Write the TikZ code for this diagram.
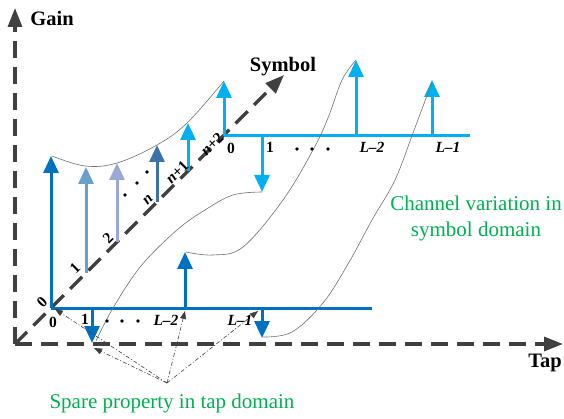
\documentclass[tikz,border=0pt]{standalone}
\usepackage{fontspec}
\setmainfont{Liberation Serif}
\usetikzlibrary{arrows.meta}
\definecolor{axisgray}{HTML}{404040}
\definecolor{tapblue}{HTML}{0070C0}
\definecolor{skyblue}{HTML}{00B0F0}
\definecolor{symA}{HTML}{6A9FCC}
\definecolor{symB}{HTML}{9BA8D4}
\definecolor{symN}{HTML}{3D72A6}
\definecolor{notegreen}{HTML}{00B050}
\definecolor{curvegray}{HTML}{707070}
\begin{document}
\begin{tikzpicture}[x=1pt,y=-1pt,
  axisline/.style={draw=axisgray, line width=3.2pt, dash pattern=on 17pt off 9pt, -{Triangle[length=19pt,width=14pt]}},
  stem/.style={line width=3pt, -{Triangle[length=17pt,width=15pt]}},
  baseline/.style={line width=3pt},
  envcurve/.style={draw=curvegray, line width=0.6pt},
  pointer/.style={draw=axisgray, line width=0.6pt, dash pattern=on 4pt off 2pt on 1pt off 2pt, -{Triangle[length=8pt,width=6pt]}},
  axlabel/.style={font=\fontsize{20.5}{24}\selectfont\bfseries},
  ticklabel/.style={font=\fontsize{15.5}{18}\selectfont\bfseries, inner sep=0.5pt},
  note/.style={font=\fontsize{21}{26}\selectfont, text=notegreen, align=center},
  dotmark/.style={circle, fill=black, inner sep=0pt, minimum size=3.6pt}
]
\useasboundingbox (0,0) rectangle (564,419);

% key coordinates
\coordinate (corner) at (15,344);
\coordinate (gaintip) at (15,8);
\coordinate (taptip) at (563,344);
\coordinate (symtip) at (284,75);
\coordinate (o0) at (51,308);
\coordinate (o0end) at (372,308);
\coordinate (o1) at (224,136);
\coordinate (o1end) at (470,136);

% axes
\draw[axisline] (corner) -- (gaintip);
\draw[axisline] (corner) -- (taptip);
\draw[axisline] (corner) -- (symtip);

% lower tap profile (symbol 0)
\coordinate (t0a) at (51,156);
\coordinate (l1b) at (92,308);  \coordinate (l1t) at (92,343);
\coordinate (l2b) at (185,308); \coordinate (l2t) at (185,252);
\coordinate (l3b) at (262,308); \coordinate (l3t) at (262,338);
\draw[baseline, tapblue] (o0) -- (o0end);
\draw[stem, tapblue] (o0) -- (t0a);
\draw[stem, tapblue] (l1b) -- (l1t);
\draw[stem, tapblue] (l2b) -- (l2t);
\draw[stem, tapblue] (l3b) -- (l3t);

% symbol-domain arrows
\coordinate (s1b) at (86,273);  \coordinate (s1t) at (86,167);
\coordinate (s2b) at (117,242); \coordinate (s2t) at (117,163);
\coordinate (snb) at (157,202); \coordinate (snt) at (157,145);
\coordinate (smb) at (188,171); \coordinate (smt) at (188,123);
\draw[stem, symA] (s1b) -- (s1t);
\draw[stem, symB] (s2b) -- (s2t);
\draw[stem, symN] (snb) -- (snt);
\draw[stem, skyblue] (smb) -- (smt);

% upper tap profile (symbol n+2)
\coordinate (u0t) at (224,81);
\coordinate (u1b) at (262,136); \coordinate (u1t) at (262,192);
\coordinate (u2b) at (356,136); \coordinate (u2t) at (356,60);
\coordinate (u3b) at (432,136); \coordinate (u3t) at (432,80);
\draw[baseline, skyblue] (o1) -- (o1end);
\draw[stem, skyblue] (o1) -- (u0t);
\draw[stem, skyblue] (u1b) -- (u1t);
\draw[stem, skyblue] (u2b) -- (u2t);
\draw[stem, skyblue] (u3b) -- (u3t);

% thin variation curves
\draw[envcurve] plot[smooth, tension=0.6] coordinates {(52,156) (85,166) (117,163) (157,145) (187,123) (224,81)};
\draw[envcurve] plot[smooth, tension=0.6] coordinates {(96,341) (113,308) (141,266) (177,230) (205,210) (233,195) (262,192)};
\draw[envcurve] plot[smooth, tension=0.6] coordinates {(186,252) (213,255) (243,247) (283,200) (313,150) (328,118) (342,80) (356,60)};
\draw[envcurve] plot[smooth, tension=0.6] coordinates {(263,337) (292,332) (323,303) (348,264) (372,220) (395,180) (413,133) (432,82)};

% pointers (sparse property)
\coordinate (hub) at (167,383);
\coordinate (p0) at (55,309);
\coordinate (p1) at (94,348);
\coordinate (p2) at (185,311);
\coordinate (p3) at (258,311);
\draw[pointer] (hub) -- (p0);
\draw[pointer] (hub) -- (p1);
\draw[pointer] (hub) -- (p2);
\draw[pointer] (hub) -- (p3);

% axis labels
\node[axlabel] (gainlbl) at (52,18) {Gain};
\node[axlabel] (symlbl) at (283,67) {Symbol};
\node[axlabel] (taplbl) at (545,363) {Tap};

% lower tick labels
\node[ticklabel] (lz) at (53,322) {0};
\node[ticklabel] (lo) at (85,319) {1};
\node[dotmark] (ld1) at (107,321) {};
\node[dotmark] (ld2) at (122,321) {};
\node[dotmark] (ld3) at (138,321) {};
\node[ticklabel] (lL2) at (166,320) {\itshape L–2};
\node[ticklabel] (lL1) at (240,320) {\itshape L–1};

% upper tick labels
\node[ticklabel] (uz) at (231,148) {0};
\node[ticklabel] (uo) at (270,147) {1};
\node[dotmark] (ud1) at (297,149) {};
\node[dotmark] (ud2) at (312,149) {};
\node[dotmark] (ud3) at (328,149) {};
\node[ticklabel] (uL2) at (372,147) {\itshape L–2};
\node[ticklabel] (uL1) at (448,147) {\itshape L–1};

% symbol tick labels
\node[ticklabel, rotate=45] (sz) at (42,302) {0};
\node[ticklabel, rotate=45] (so) at (75,268) {1};
\node[ticklabel, rotate=45] (st) at (108,238) {2};
\node[ticklabel, rotate=45] (sn) at (148,200) {\itshape n};
\node[ticklabel, rotate=45] (sm) at (177,172) {{\itshape n}+1};
\node[ticklabel, rotate=45] (sp) at (212,144) {{\itshape n}+2};
\node[dotmark] (sd1) at (125,195) {};
\node[dotmark] (sd2) at (137,183) {};
\node[dotmark] (sd3) at (147,172) {};

% notes
\node[note] (chnote) at (476,218) {Channel variation in\\symbol domain};
\node[note] (spnote) at (172,403) {Spare property in tap domain};
\end{tikzpicture}
\end{document}
